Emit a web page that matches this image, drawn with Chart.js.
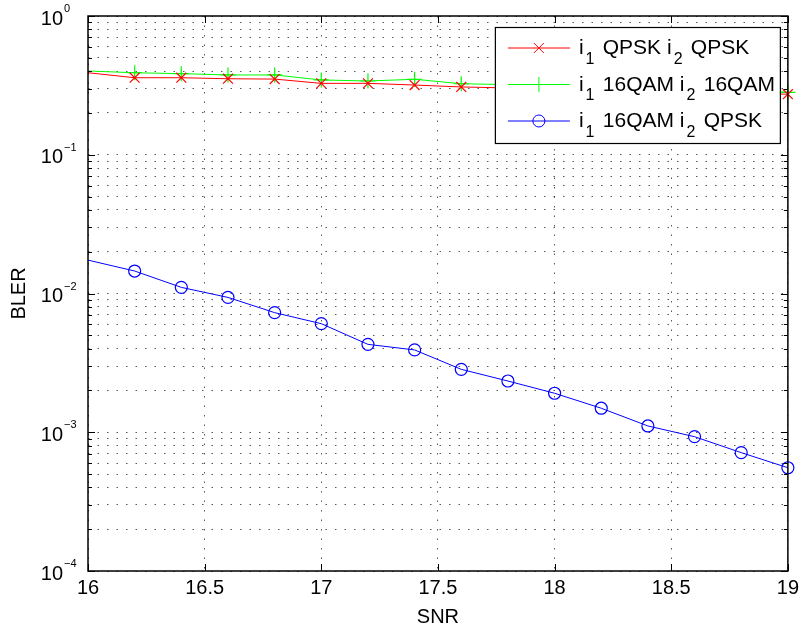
<!DOCTYPE html>
<html>
<head>
<meta charset="utf-8">
<script src="https://cdn.jsdelivr.net/npm/chart.js@4"></script>
<style>
  html, body { margin: 0; padding: 0; background: #fff; }
</style>
</head>
<body>
<canvas id="myChart" width="804" height="629"></canvas>
<script>
// values
const snr = [16, 16.2, 16.4, 16.6, 16.8, 17, 17.2, 17.4, 17.6, 17.8, 18, 18.2, 18.4, 18.6, 18.8, 19]
const blerQpskQpsk = [0.390, 0.359, 0.359, 0.353, 0.351, 0.327, 0.327, 0.318, 0.308, 0.303, 0.298, 0.293, 0.288, 0.283, 0.278, 0.273]
const blerQamQam = [0.4015, 0.390, 0.384, 0.376, 0.376, 0.346, 0.340, 0.350, 0.325, 0.320, 0.315, 0.308, 0.302, 0.296, 0.290, 0.282]
const blerQamQpsk = [0.0174, 0.01452, 0.01107, 0.00937, 0.00728, 0.00606, 0.00430, 0.00392, 0.00284, 0.00234, 0.00191, 0.00149, 0.00111, 0.000929, 0.000713, 0.000555]
const seriesNames = ['i_1 QPSK i_2 QPSK', 'i_1 16QAM i_2 16QAM', 'i_1 16QAM i_2 QPSK']
const xTicks = [16, 16.5, 17, 17.5, 18, 18.5, 19]
const yTickExps = [-4, -3, -2, -1, 0]

const FONT = '"Liberation Sans", Arial, Helvetica, sans-serif'
Chart.defaults.font.family = FONT
Chart.defaults.color = '#000'

function pts(ys) {
  return snr.map((x, i) => ({ x: x, y: ys[i] }))
}

// the curves come in from the left edge, first sample has no marker
function markerSize(r) {
  return ctx => (ctx.dataIndex === 0 ? 0 : r)
}

// split "i_1 QPSK" into normal / subscript pieces
function pieces(label) {
  const out = []
  const re = /_(.)/g
  let last = 0, m
  while ((m = re.exec(label))) {
    if (m.index > last) out.push([label.slice(last, m.index), false])
    out.push([m[1], true])
    last = re.lastIndex
  }
  if (last < label.length) out.push([label.slice(last), false])
  return out
}

const matlabLook = {
  id: 'matlabLook',
  afterDraw(chart) {
    const ctx = chart.ctx
    const area = chart.chartArea
    const xs = chart.scales.x
    const ys = chart.scales.y
    ctx.save()

    // inner tick marks
    ctx.strokeStyle = '#000'
    ctx.lineWidth = 1
    ctx.beginPath()
    ys.ticks.forEach(t => {
      const y = Math.round(ys.getPixelForValue(t.value)) + 0.5
      const len = t.major ? 7 : 4
      ctx.moveTo(area.left, y); ctx.lineTo(area.left + len, y)
      ctx.moveTo(area.right, y); ctx.lineTo(area.right - len, y)
    })
    xs.ticks.forEach(t => {
      const x = Math.round(xs.getPixelForValue(t.value)) + 0.5
      ctx.moveTo(x, area.bottom); ctx.lineTo(x, area.bottom - 7)
      ctx.moveTo(x, area.top); ctx.lineTo(x, area.top + 7)
    })
    ctx.stroke()

    // axes box
    ctx.lineWidth = 1.5
    ctx.strokeRect(area.left, area.top, area.right - area.left, area.bottom - area.top)

    // y tick labels 10^n
    ctx.fillStyle = '#000'
    yTickExps.forEach(e => {
      const y = ys.getPixelForValue(Math.pow(10, e))
      ctx.font = '20px ' + FONT
      ctx.textAlign = 'right'
      ctx.textBaseline = 'alphabetic'
      ctx.fillText('10', area.left - 25, y + 8.5)
      ctx.font = '11px ' + FONT
      ctx.textAlign = 'left'
      ctx.fillText(e === 0 ? '0' : '\u2212' + (-e), area.left - 24, y - 4)
    })

    // legend box
    const bx = area.right - 293, by = area.top + 11, bw = 285, bh = 116
    ctx.fillStyle = '#fff'
    ctx.fillRect(bx, by, bw, bh)
    ctx.strokeStyle = '#000'
    ctx.lineWidth = 1.2
    ctx.strokeRect(bx + 0.5, by + 0.5, bw, bh)

    chart.data.datasets.forEach((ds, i) => {
      const rowY = by + 21 + i * 36.5
      ctx.strokeStyle = ds.borderColor
      ctx.lineWidth = 1
      ctx.beginPath()
      ctx.moveTo(bx + 13, rowY); ctx.lineTo(bx + 75, rowY)
      ctx.stroke()
      ctx.fillStyle = 'rgba(0,0,0,0)'
      Chart.helpers.drawPoint(ctx, {
        pointStyle: ds.pointStyle, radius: ds.legendRadius,
        borderWidth: ds.pointBorderWidth, rotation: 0
      }, bx + 44, rowY)

      ctx.fillStyle = '#000'
      ctx.textAlign = 'left'
      ctx.textBaseline = 'alphabetic'
      let tx = bx + 84
      pieces(ds.label).forEach(([txt, sub]) => {
        if (sub) {
          ctx.font = '16px ' + FONT
          tx += 2
          ctx.fillText(txt, tx, rowY + 15.5)
          tx += ctx.measureText(txt).width + 2.5
        } else {
          ctx.font = '21px ' + FONT
          ctx.fillText(txt, tx, rowY + 6)
          tx += ctx.measureText(txt).width
        }
      })
    })
    ctx.restore()
  }
}

const dotted = [1.5, 8]
const gridColor = 'rgba(0,0,0,0.65)'

new Chart(document.getElementById('myChart'), {
  type: 'line',
  data: {
    datasets: [
      {
        label: seriesNames[0], data: pts(blerQpskQpsk),
        borderColor: '#ff0000', backgroundColor: '#ff0000', borderWidth: 1,
        pointStyle: 'crossRot', pointRadius: markerSize(7), legendRadius: 7,
        pointBorderWidth: 1.2, clip: false
      },
      {
        label: seriesNames[1], data: pts(blerQamQam),
        borderColor: '#00ff00', backgroundColor: '#00ff00', borderWidth: 1,
        pointStyle: 'cross', pointRadius: markerSize(7.5), legendRadius: 7.5,
        pointBorderWidth: 1.2, clip: false
      },
      {
        label: seriesNames[2], data: pts(blerQamQpsk),
        borderColor: '#0000ff', backgroundColor: 'rgba(0,0,0,0)', borderWidth: 1,
        pointStyle: 'circle', pointRadius: markerSize(6), legendRadius: 6,
        pointBorderWidth: 1.2, clip: false
      }
    ]
  },
  options: {
    responsive: false,
    animation: false,
    layout: { padding: { top: 16, right: 13, left: 0, bottom: 0 } },
    plugins: {
      legend: { display: false },
      tooltip: { enabled: false }
    },
    elements: { line: { tension: 0 } },
    scales: {
      x: {
        type: 'linear', min: 16, max: 19,
        afterBuildTicks: s => { s.ticks = xTicks.map(v => ({ value: v })) },
        grid: { color: gridColor, lineWidth: 1, drawTicks: false },
        border: { display: false, dash: dotted },
        ticks: {
          padding: 5, font: { size: 20 }, color: '#000',
          maxRotation: 0, autoSkip: false,
          callback: v => String(v)
        },
        title: { display: true, text: 'SNR', font: { size: 20 }, color: '#000', padding: { top: 0, bottom: 0 } }
      },
      y: {
        type: 'logarithmic', min: 1e-4, max: 1,
        afterBuildTicks: s => {
          const t = []
          yTickExps.forEach(e => {
            for (let k = 1; k <= 9; k++) {
              const v = k * Math.pow(10, e)
              if (v <= 1 + 1e-12) t.push({ value: v, major: k === 1 })
            }
          })
          s.ticks = t
        },
        grid: { color: gridColor, lineWidth: 1, drawTicks: false },
        border: { display: false, dash: dotted },
        ticks: { display: false, autoSkip: false },
        title: { display: true, text: 'BLER', font: { size: 20 }, color: '#000', padding: { top: 7.5, bottom: 56.5 } }
      }
    }
  },
  plugins: [matlabLook]
})
</script>
</body>
</html>
